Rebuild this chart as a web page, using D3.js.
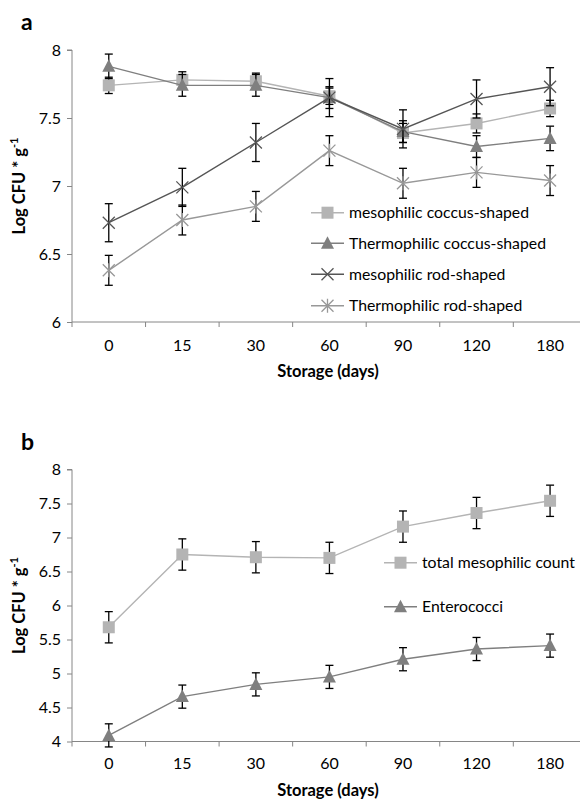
<!DOCTYPE html>
<html><head><meta charset="utf-8">
<script src="https://cdn.jsdelivr.net/npm/d3@7"></script>
<style>body{margin:0;background:#fff}svg{display:block}</style>
</head><body>
<svg id="c" width="580" height="799"></svg>
<script>
const days = ["0","15","30","60","90","120","180"];
const yTicksA = [6,6.5,7,7.5,8];
const yTicksB = [4,4.5,5,5.5,6,6.5,7,7.5,8];

const mesCocci   = [7.74,7.78,7.77,7.66,7.39,7.46,7.57];
const mesCocciE  = [0.06,0.06,0.06,0.06,0.07,0.07,0.06];
const thermCocci = [7.88,7.74,7.74,7.65,7.40,7.29,7.35];
const thermCocciE= [0.09,0.08,0.08,0.08,0.08,0.08,0.09];
const mesRod     = [6.73,6.99,7.32,7.65,7.42,7.64,7.73];
const mesRodE    = [0.14,0.14,0.14,0.14,0.14,0.14,0.14];
const thermRod   = [6.38,6.75,6.85,7.26,7.02,7.10,7.04];
const thermRodE  = [0.11,0.11,0.11,0.11,0.11,0.11,0.11];

const totalMes   = [5.68,6.75,6.71,6.70,7.16,7.36,7.54];
const totalMesE  = [0.23,0.23,0.23,0.23,0.23,0.23,0.23];
const entero     = [4.09,4.66,4.84,4.95,5.21,5.36,5.41];
const enteroE    = [0.17,0.17,0.17,0.17,0.17,0.17,0.17];

const FONT = "Lato, 'Open Sans', sans-serif";
const svg = d3.select("#c");

function marker(g, type, cx, cy, color){
  if(type==="square"){
    g.append("rect").attr("x",cx-6).attr("y",cy-6).attr("width",12).attr("height",12).attr("fill",color);
  } else if(type==="triangle"){
    g.append("path").attr("d",`M${cx},${cy-7}L${cx+6.5},${cy+5.5}L${cx-6.5},${cy+5.5}Z`).attr("fill",color);
  } else if(type==="x"){
    g.append("path").attr("d",`M${cx-6},${cy-6}L${cx+6},${cy+6}M${cx-6},${cy+6}L${cx+6},${cy-6}`)
      .attr("stroke",color).attr("stroke-width",1.3).attr("fill","none");
  } else if(type==="star"){
    g.append("path").attr("d",`M${cx-6},${cy-6}L${cx+6},${cy+6}M${cx-6},${cy+6}L${cx+6},${cy-6}M${cx},${cy-7}L${cx},${cy+7}`)
      .attr("stroke",color).attr("stroke-width",1.3).attr("fill","none");
  }
}

function panel(opts){
  const {top, bottom, yDomain, yTicks, series, legend, label, titleY, tickLabelY} = opts;
  const x = d3.scaleBand().domain(days).range([72, 72+7*73.55]);
  const y = d3.scaleLinear().domain(yDomain).range([bottom, top]);
  const g = svg.append("g");

  // y axis
  const ya = g.append("g").attr("transform","translate(72,0)")
    .call(d3.axisLeft(y).tickValues(yTicks).tickSize(5).tickPadding(6).tickFormat(d3.format("")));
  ya.select(".domain").attr("stroke","#868686").attr("d",`M-5,${y(yDomain[1])}H0V${y(yDomain[0])}`);
  ya.selectAll(".tick line").attr("stroke","#868686");
  ya.selectAll(".tick text").attr("font-family",FONT).attr("font-size",16).attr("fill","#000");

  // x axis
  const xa = g.append("g").attr("transform",`translate(0,${bottom})`)
    .call(d3.axisBottom(x).tickSize(0).tickPadding(0));
  xa.select(".domain").attr("stroke","#868686").attr("d",`M72,0H${72+7*73.55}`);
  xa.selectAll(".tick text").attr("font-family",FONT).attr("font-size",16).attr("fill","#000")
    .attr("dy",0).attr("y",tickLabelY-bottom+6);
  // boundary ticks
  g.append("g").selectAll("line").data(days).join("line")
    .attr("x1",d=>x(d)).attr("x2",d=>x(d)).attr("y1",bottom).attr("y2",bottom+5)
    .attr("stroke","#868686");

  // series
  series.forEach(s=>{
    const line = d3.line().x((d,i)=>x(days[i])+x.bandwidth()/2).y(d=>y(d));
    g.append("path").datum(s.values).attr("d",line).attr("fill","none")
      .attr("stroke",s.color).attr("stroke-width",1.4);
    s.values.forEach((v,i)=>{
      const cx = x(days[i])+x.bandwidth()/2;
      const e = s.err[i];
      const eb = g.append("g").attr("stroke","#000").attr("stroke-width",1.3);
      eb.append("line").attr("x1",cx).attr("x2",cx).attr("y1",y(v-e)).attr("y2",y(v+e));
      eb.append("line").attr("x1",cx-4).attr("x2",cx+4).attr("y1",y(v-e)).attr("y2",y(v-e));
      eb.append("line").attr("x1",cx-4).attr("x2",cx+4).attr("y1",y(v+e)).attr("y2",y(v+e));
      marker(g, s.type, cx, y(v), s.mcolor);
    });
  });

  // legend
  series.forEach((s,i)=>{
    const ly = legend.y[i];
    g.append("line").attr("x1",legend.x).attr("x2",legend.x+33).attr("y1",ly).attr("y2",ly)
      .attr("stroke",s.color).attr("stroke-width",1.4);
    marker(g, s.type, legend.x+16.5, ly, s.mcolor);
    g.append("text").attr("x",legend.x+38).attr("y",ly).attr("dy","0.35em")
      .attr("font-family",FONT).attr("font-size",15.8).text(s.name);
  });

  // panel label
  g.append("text").attr("x",21).attr("y",top-20).attr("font-family",FONT).attr("font-weight","bold")
    .attr("font-size",23).text(label);

  // y title
  const yt = g.append("text").attr("transform",`translate(25,${(top+bottom)/2}) rotate(-90)`)
    .attr("text-anchor","middle").attr("font-family",FONT).attr("font-weight","bold").attr("font-size",16.5);
  yt.append("tspan").text("Log CFU * g");
  yt.append("tspan").attr("font-size",11).attr("dy",-7).text("-1");

  // x title
  g.append("text").attr("x",328).attr("y",titleY).attr("text-anchor","middle")
    .attr("font-family",FONT).attr("font-weight","bold").attr("font-size",16.5).text("Storage (days)");
}

panel({
  top:50, bottom:322, yDomain:[6,8], yTicks:yTicksA, label:"a", titleY:377, tickLabelY:345,
  series:[
    {name:"mesophilic coccus-shaped", values:mesCocci, err:mesCocciE, type:"square", color:"#b4b4b4", mcolor:"#b4b4b4"},
    {name:"Thermophilic coccus-shaped", values:thermCocci, err:thermCocciE, type:"triangle", color:"#7f7f7f", mcolor:"#7f7f7f"},
    {name:"mesophilic rod-shaped", values:mesRod, err:mesRodE, type:"x", color:"#555555", mcolor:"#555555"},
    {name:"Thermophilic rod-shaped", values:thermRod, err:thermRodE, type:"star", color:"#989898", mcolor:"#989898"}
  ],
  legend:{x:311, y:[212.7,243.3,274.3,305.7]}
});

panel({
  top:469.5, bottom:741.5, yDomain:[4,8], yTicks:yTicksB, label:"b", titleY:796, tickLabelY:763,
  series:[
    {name:"total mesophilic count", values:totalMes, err:totalMesE, type:"square", color:"#b4b4b4", mcolor:"#b4b4b4"},
    {name:"Enterococci", values:entero, err:enteroE, type:"triangle", color:"#7f7f7f", mcolor:"#7f7f7f"}
  ],
  legend:{x:384, y:[562.7,606.7]}
});
</script>
</body></html>
